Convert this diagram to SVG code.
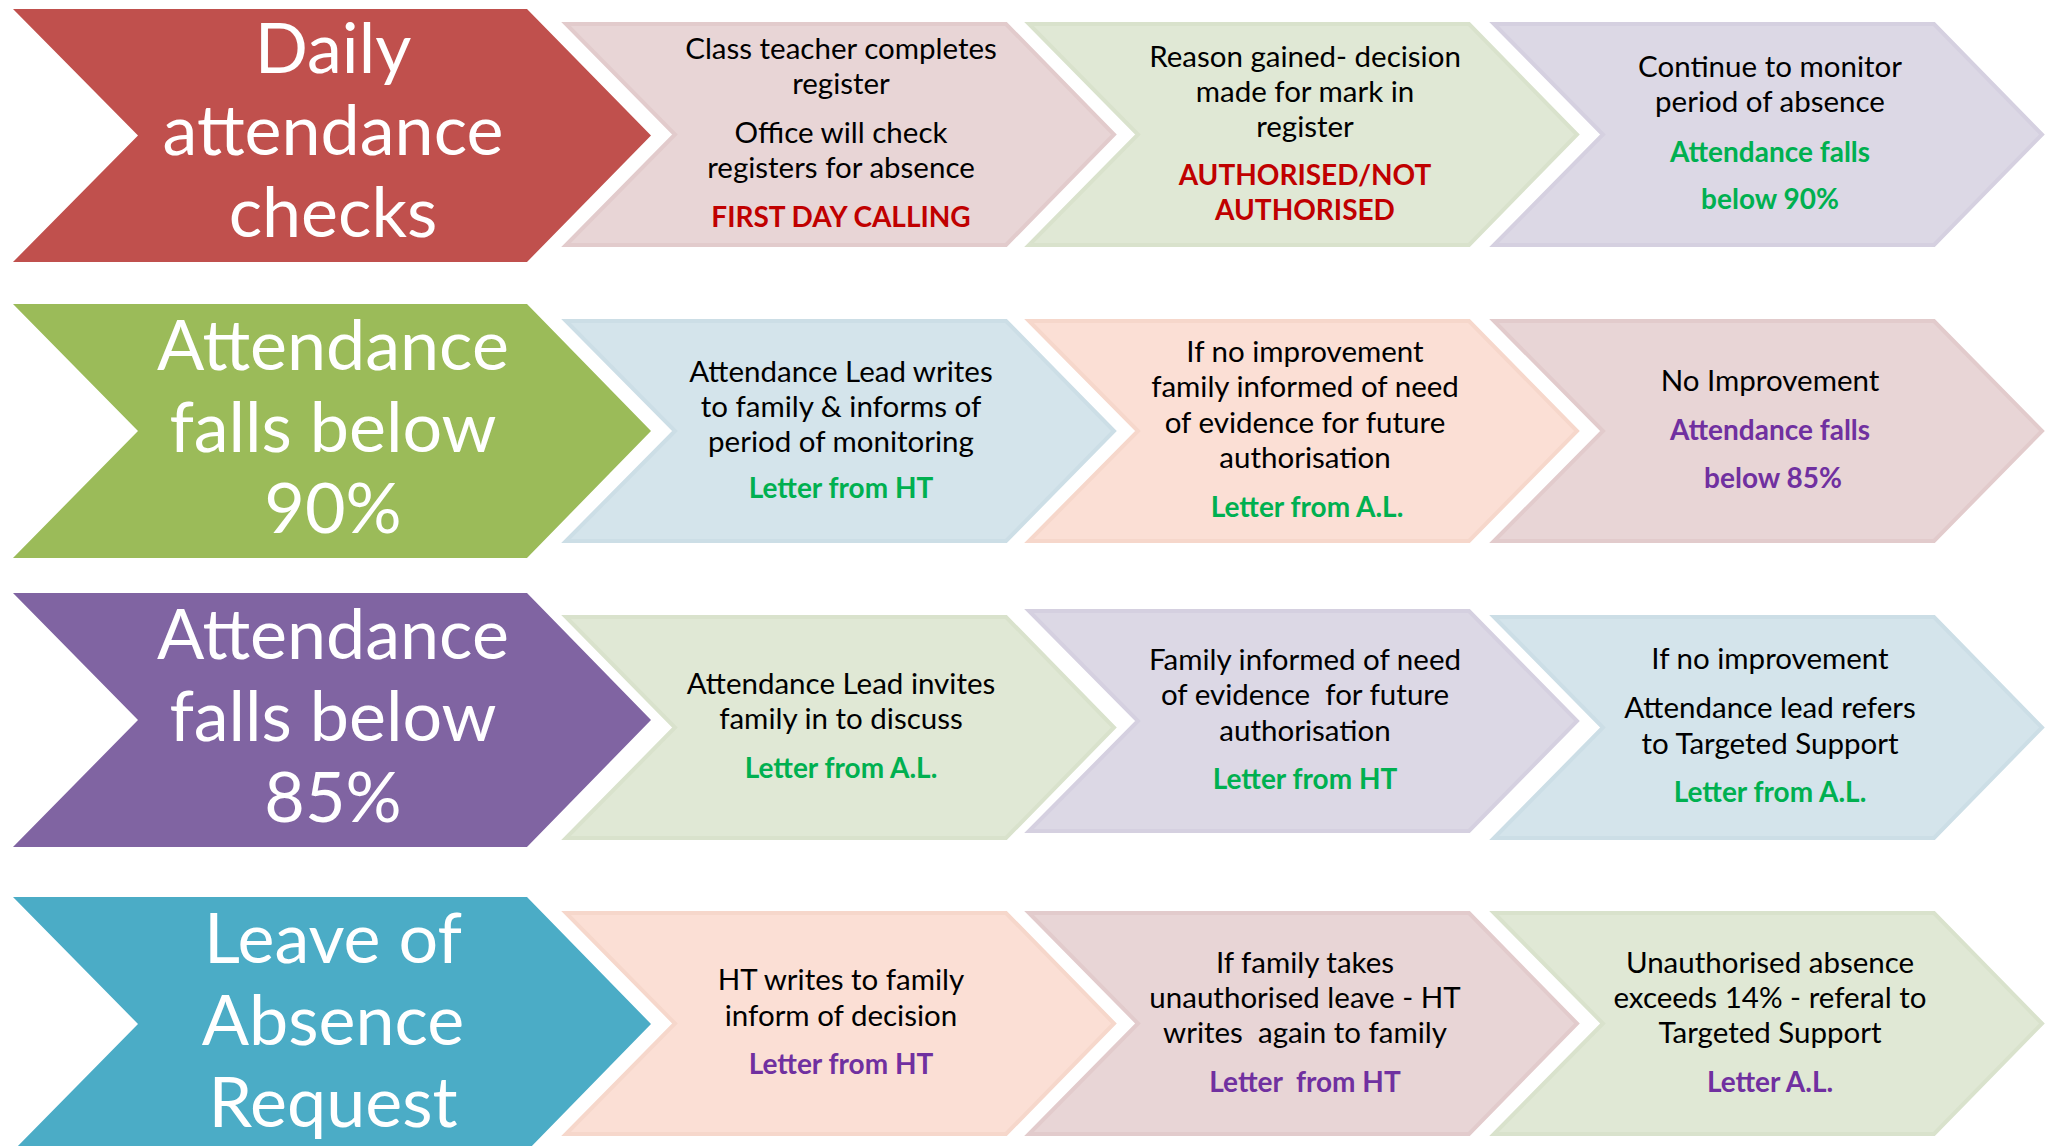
<svg xmlns="http://www.w3.org/2000/svg" width="2046" height="1146" viewBox="0 0 2046 1146">
<style>
.red{fill:#C0504D}
.olive{fill:#9BBB59}
.purple{fill:#8064A2}
.aqua{fill:#4BACC6}
.pink{fill:#E8D5D6;stroke:#E2CBCC;stroke-width:4}
.green{fill:#E0E8D5;stroke:#D9E2CC;stroke-width:4}
.lav{fill:#DCD8E5;stroke:#D5D0E0;stroke-width:4}
.blue{fill:#D4E4EB;stroke:#CCDEE6;stroke-width:4}
.peach{fill:#FBDFD5;stroke:#F6D7CB;stroke-width:4}
text{font-family:Lato,"Open Sans","Liberation Sans",sans-serif;text-anchor:middle}
.bt{fill:#FFFFFF;font-size:70px}
.st{fill:#000000;font-size:29.5px}
.hr{fill:#C00000;font-size:28px;font-weight:bold}
.hg{fill:#00B050;font-size:28px;font-weight:bold}
.hp{fill:#7030A0;font-size:28px;font-weight:bold}
</style>

<g id="row1-title">
<polygon class="red" points="13,9 527,9 651,135.5 527,262 13,262 138,135.5"/>
<text class="bt" x="333" y="73">Daily</text>
<text class="bt" x="333" y="155">attendance</text>
<text class="bt" x="333" y="237">checks</text>
</g>
<g id="row1-step1">
<polygon class="pink" points="566,24 1006,24 1114,134.5 1006,245 566,245 675,134.5"/>
<text class="st" x="841" y="59">Class teacher completes</text>
<text class="st" x="841" y="94">register</text>
<text class="st" x="841" y="143">Office will check</text>
<text class="st" x="841" y="178">registers for absence</text>
<text class="hr" x="841" y="227">FIRST DAY CALLING</text>
</g>
<g id="row1-step2">
<polygon class="green" points="1029,24 1469,24 1577,134.5 1469,245 1029,245 1138,134.5"/>
<text class="st" x="1305" y="67">Reason gained- decision</text>
<text class="st" x="1305" y="102">made for mark in</text>
<text class="st" x="1305" y="137">register</text>
<text class="hr" x="1305" y="185">AUTHORISED/NOT</text>
<text class="hr" x="1305" y="220">AUTHORISED</text>
</g>
<g id="row1-step3">
<polygon class="lav" points="1494,24 1934,24 2042,134.5 1934,245 1494,245 1603,134.5"/>
<text class="st" x="1770" y="77">Continue to monitor</text>
<text class="st" x="1770" y="112">period of absence</text>
<text class="hg" x="1770" y="162">Attendance falls</text>
<text class="hg" x="1770" y="209">below 90%</text>
</g>

<g id="row2-title">
<polygon class="olive" points="13,304 527,304 651,431 527,558 13,558 138,431"/>
<text class="bt" x="333" y="370">Attendance</text>
<text class="bt" x="333" y="452">falls below</text>
<text class="bt" x="333" y="533">90%</text>
</g>
<g id="row2-step1">
<polygon class="blue" points="566,321 1006,321 1114,431 1006,541 566,541 675,431"/>
<text class="st" x="841" y="382">Attendance Lead writes</text>
<text class="st" x="841" y="417">to family &amp; informs of</text>
<text class="st" x="841" y="452">period of monitoring</text>
<text class="hg" x="841" y="498">Letter from HT</text>
</g>
<g id="row2-step2">
<polygon class="peach" points="1029,321 1469,321 1577,431 1469,541 1029,541 1138,431"/>
<text class="st" x="1305" y="362">If no improvement</text>
<text class="st" x="1305" y="397">family informed of need</text>
<text class="st" x="1305" y="433">of evidence for future</text>
<text class="st" x="1305" y="468">authorisation</text>
<text class="hg" x="1307" y="517">Letter from A.L.</text>
</g>
<g id="row2-step3">
<polygon class="pink" points="1494,321 1934,321 2042,431 1934,541 1494,541 1603,431"/>
<text class="st" x="1770" y="391">No Improvement</text>
<text class="hp" x="1770" y="440">Attendance falls</text>
<text class="hp" x="1773" y="488">below 85%</text>
</g>

<g id="row3-title">
<polygon class="purple" points="13,593 527,593 651,720 527,847 13,847 138,720"/>
<text class="bt" x="333" y="659">Attendance</text>
<text class="bt" x="333" y="741">falls below</text>
<text class="bt" x="333" y="822">85%</text>
</g>
<g id="row3-step1">
<polygon class="green" points="566,617 1006,617 1114,727.5 1006,838 566,838 675,727.5"/>
<text class="st" x="841" y="694">Attendance Lead invites</text>
<text class="st" x="841" y="729">family in to discuss</text>
<text class="hg" x="841" y="778">Letter from A.L.</text>
</g>
<g id="row3-step2">
<polygon class="lav" points="1029,611 1469,611 1577,721 1469,831 1029,831 1138,721"/>
<text class="st" x="1305" y="670">Family informed of need</text>
<text class="st" x="1305" y="705" xml:space="preserve">of evidence  for future</text>
<text class="st" x="1305" y="741">authorisation</text>
<text class="hg" x="1305" y="789">Letter from HT</text>
</g>
<g id="row3-step3">
<polygon class="blue" points="1494,617 1934,617 2042,727.5 1934,838 1494,838 1603,727.5"/>
<text class="st" x="1770" y="669">If no improvement</text>
<text class="st" x="1770" y="718">Attendance lead refers</text>
<text class="st" x="1770" y="754">to Targeted Support</text>
<text class="hg" x="1770" y="802">Letter from A.L.</text>
</g>

<g id="row4-title">
<polygon class="aqua" points="13,897 527,897 651,1024 527,1151 13,1151 138,1024"/>
<text class="bt" x="333" y="963">Leave of</text>
<text class="bt" x="333" y="1045">Absence</text>
<text class="bt" x="333" y="1127">Request</text>
</g>
<g id="row4-step1">
<polygon class="peach" points="566,913 1006,913 1114,1023.5 1006,1134 566,1134 675,1023.5"/>
<text class="st" x="841" y="990">HT writes to family</text>
<text class="st" x="841" y="1026">inform of decision</text>
<text class="hp" x="841" y="1074">Letter from HT</text>
</g>
<g id="row4-step2">
<polygon class="pink" points="1029,913 1469,913 1577,1023.5 1469,1134 1029,1134 1138,1023.5"/>
<text class="st" x="1305" y="973">If family takes</text>
<text class="st" x="1305" y="1008">unauthorised leave - HT</text>
<text class="st" x="1305" y="1043" xml:space="preserve">writes  again to family</text>
<text class="hp" x="1305" y="1092" xml:space="preserve">Letter  from HT</text>
</g>
<g id="row4-step3">
<polygon class="green" points="1494,913 1934,913 2042,1023.5 1934,1134 1494,1134 1603,1023.5"/>
<text class="st" x="1770" y="973">Unauthorised absence</text>
<text class="st" x="1770" y="1008">exceeds 14% - referal to</text>
<text class="st" x="1770" y="1043">Targeted Support</text>
<text class="hp" x="1770" y="1092">Letter A.L.</text>
</g>

<g id="connectors"></g>
</svg>
